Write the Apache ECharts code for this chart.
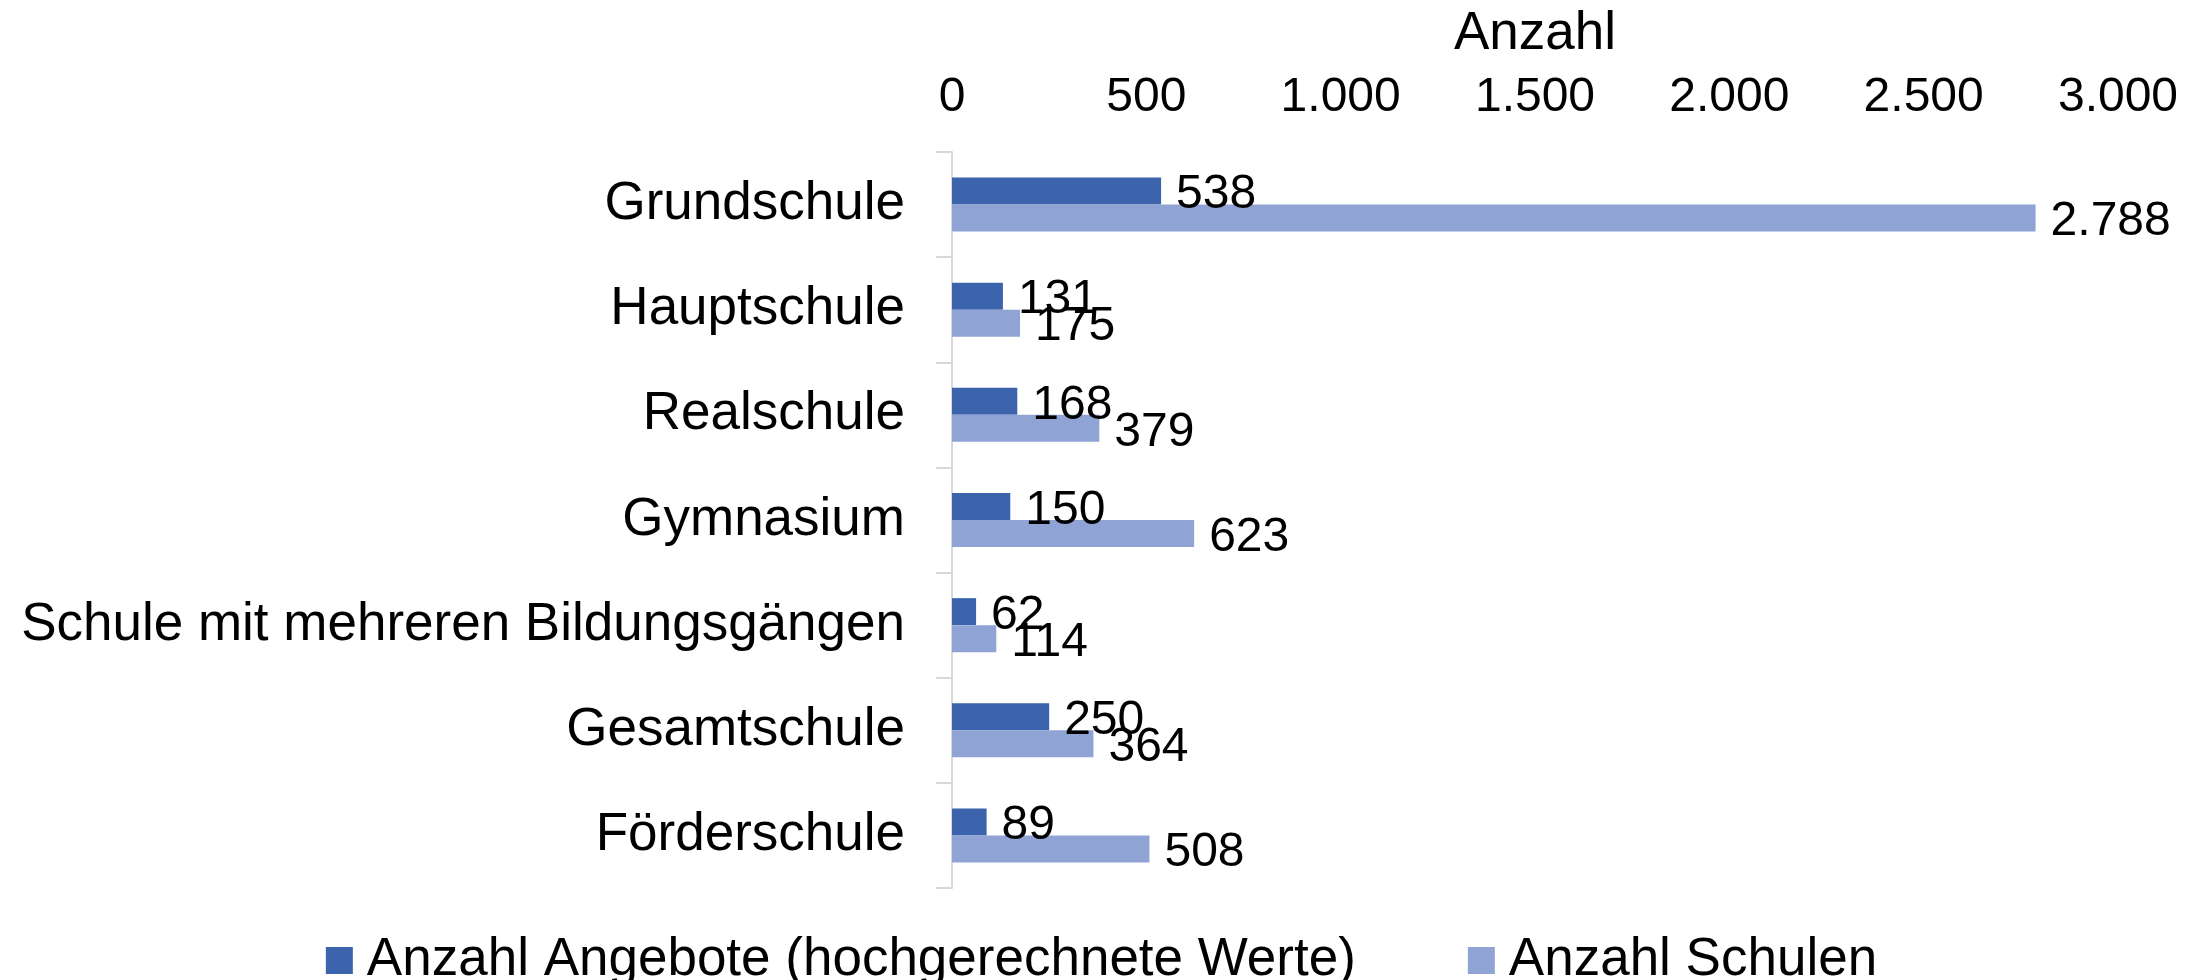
<!DOCTYPE html>
<html>
<head>
<meta charset="utf-8">
<script src="https://cdn.jsdelivr.net/npm/echarts@6/dist/echarts.min.js"></script>
<style>
html,body{margin:0;padding:0;background:#fff;}
#chart{width:2203px;height:980px;}
</style>
</head>
<body>
<div id="chart"></div>
<script>
const categories = ['Grundschule','Hauptschule','Realschule','Gymnasium','Schule mit mehreren Bildungsgängen','Gesamtschule','Förderschule'];
const angebote = [538, 131, 168, 150, 62, 250, 89];
const schulen = [2788, 175, 379, 623, 114, 364, 508];
const seriesNames = ['Anzahl Angebote (hochgerechnete Werte)', 'Anzahl Schulen'];
const axisName = 'Anzahl';

const FONT = '"Liberation Sans", Arial, sans-serif';
const fmt = v => String(v).replace(/\B(?=(\d{3})+(?!\d))/g, '.');

const chart = echarts.init(document.getElementById('chart'));
chart.setOption({
  animation: false,
  backgroundColor: '#fff',
  textStyle: { fontFamily: FONT, color: '#000' },
  grid: { left: 952, right: 85, top: 152, bottom: 92 },
  legend: {
    top: 929,
    left: 'center',
    itemWidth: 27,
    itemHeight: 27,
    itemGap: 112,
    icon: 'rect',
    textStyle: { fontFamily: FONT, fontSize: 53, color: '#000', padding: [0,0,0,9] },
    data: seriesNames
  },
  xAxis: {
    type: 'value',
    position: 'top',
    min: 0, max: 3000, interval: 500,
    name: axisName,
    nameLocation: 'middle',
    nameGap: 91,
    nameTextStyle: { fontFamily: FONT, fontSize: 53, color: '#000' },
    axisLine: { show: false },
    axisTick: { show: false },
    splitLine: { show: false },
    axisLabel: { fontFamily: FONT, fontSize: 48, color: '#000', margin: 30, formatter: fmt }
  },
  yAxis: {
    type: 'category',
    inverse: true,
    data: categories,
    axisLine: { show: true, lineStyle: { color: '#d9d9d9', width: 2 } },
    axisTick: { show: true, length: 16, lineStyle: { color: '#d9d9d9', width: 2 } },
    axisLabel: { fontFamily: FONT, fontSize: 53, color: '#000', margin: 47, padding: [6,0,0,0] }
  },
  series: [
    {
      name: seriesNames[0], type: 'bar', data: angebote,
      barWidth: 27, barGap: '0%',
      itemStyle: { color: '#3b64ad' },
      label: { show: true, position: 'right', distance: 15, offset: [0, 4], fontFamily: FONT, fontSize: 48, color: '#000', formatter: p => fmt(p.value) }
    },
    {
      name: seriesNames[1], type: 'bar', data: schulen,
      barWidth: 27, barGap: '0%',
      itemStyle: { color: '#8fa3d4' },
      label: { show: true, position: 'right', distance: 15, offset: [0, 4], fontFamily: FONT, fontSize: 48, color: '#000', formatter: p => fmt(p.value) }
    }
  ]
});
</script>
</body>
</html>
